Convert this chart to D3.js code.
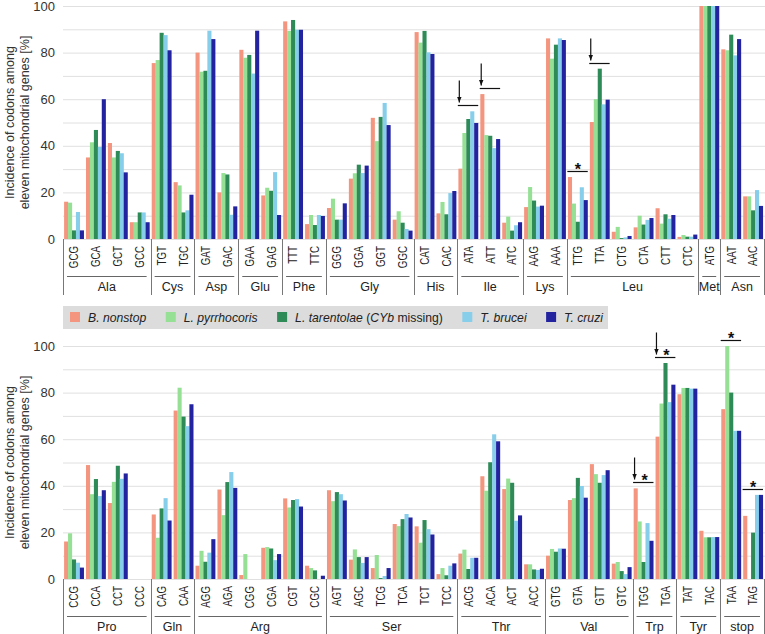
<!DOCTYPE html>
<html><head><meta charset="utf-8">
<script src="https://cdn.jsdelivr.net/npm/d3@7"></script>
<style>body{margin:0;background:#fff}svg{display:block;font-family:"Liberation Sans",Arial,sans-serif}</style>
</head><body><svg id="c" width="765" height="634"></svg>
<script>
const species = ["B. nonstop", "L. pyrrhocoris", "L. tarentolae (CYb missing)", "T. brucei", "T. cruzi"];
const colors = ["#F4967F", "#96E096", "#2E8B57", "#87CEEB", "#2323A0"];
const yTicks = [0, 20, 40, 60, 80, 100];

const codonsTop = ["GCG","GCA","GCT","GCC","TGT","TGC","GAT","GAC","GAA","GAG","TTT","TTC","GGG","GGA","GGT","GGC","CAT","CAC","ATA","ATT","ATC","AAG","AAA","TTG","TTA","CTG","CTA","CTT","CTC","ATG","AAT","AAC"];
const groupsTop = ["Ala","Cys","Asp","Glu","Phe","Gly","His","Ile","Lys","Leu","Met","Asn"];
const groupSizesTop = [4,2,2,2,2,4,2,3,2,6,1,2];
const bNonstopTop = [16,35,41.2,7.2,75.5,24.4,80,20,81.2,18.7,93.4,6.4,13.3,25.9,52,8.3,88.8,11,30.2,62.2,7,13.7,86.1,26.6,50.2,3.1,5,13.2,0.9,100,81.4,18.3];
const lPyrrhocorisTop = [15.6,41.5,35,7.2,76.8,23,71.8,28.3,77.8,22,89.3,10.3,17.3,28.2,42,11.9,84.3,15.9,45.5,44.6,9.6,22.3,77.4,15.2,60,5.2,10,6.6,1.7,100,81,18.3];
const lTarentolaeTop = [3.7,46.8,37.8,11.4,88.5,11.4,72.2,27.7,79,20.7,94,6,8.3,31.9,52.4,7,89.3,10.6,51.5,44.3,3.6,16.5,83.4,7.4,73.1,0.4,6.2,10.6,1,100,87.7,12.3];
const tBruceiTop = [11.6,39.5,36.8,11.4,87.5,12.3,89.4,10.4,71,28.7,89.8,10.3,8.3,28.3,58.4,4.3,80.1,19.7,54.8,39,5.9,13.9,86.1,22.2,57.8,0.7,8.2,8.7,1,100,78.8,21];
const tCruziTop = [3.7,60,28.6,7.2,81,19,85.8,14,89.4,10.3,89.8,9.9,15.3,31.5,48.9,3.6,79.4,20.6,49.8,42.9,7.2,14.3,85.4,16.7,59.8,1.3,9,10.3,1.9,100,85.8,14.2];
const marksTop = [{codon:"ATA",arrow:true,star:false},{codon:"ATT",arrow:true,star:false},{codon:"TTG",arrow:false,star:true},{codon:"TTA",arrow:true,star:false}];

const codonsBot = ["CCG","CCA","CCT","CCC","CAG","CAA","AGG","AGA","CGG","CGA","CGT","CGC","AGT","AGC","TCG","TCA","TCT","TCC","ACG","ACA","ACT","ACC","GTG","GTA","GTT","GTC","TGG","TGA","TAT","TAC","TAA","TAG"];
const groupsBot = ["Pro","Gln","Arg","Ser","Thr","Val","Trp","Tyr","stop"];
const groupSizesBot = [4,2,6,6,4,4,2,2,2];
const bNonstopBot = [16.1,48.9,32.6,0,27.7,72.3,5.7,38.4,1.7,13.4,34.6,5.7,38.1,8.3,4.7,23.6,22.6,2.1,10.9,44.1,38.6,6.3,10,33.9,49.3,6.6,38.9,61.1,79.3,20.7,72.9,27.1];
const lPyrrhocorisBot = [19.6,36.4,41.7,0,17.7,82.1,12.1,27.4,10.7,13.7,30.7,4.7,33.4,12.7,10.3,22.7,15.6,4.7,12.6,37.9,43.1,6.3,12.9,34.7,45,7.3,24.7,75.3,82,17.9,100,0];
const lTarentolaeBot = [8.4,42.9,48.6,0,30.3,69.7,7.4,41.6,0,13.1,33.9,3.7,37.3,9.4,0.4,25.7,25.3,1.6,4.3,50.1,41.3,4.1,11.7,43.4,41.3,3.4,7.3,92.7,82,17.9,80,19.9];
const tBruceiBot = [7,35.6,43,0,34.7,65.6,11.3,45.9,0,8.1,34.3,0,36.4,6.9,1.3,27.9,21.4,5.7,9.1,62.1,25,3.9,13.1,39.9,44.6,2.1,24,75.9,81.7,18,63.6,36.1];
const tCruziBot = [4.9,38.1,45.3,0,25.1,75,17.1,39.1,0,10.7,31.1,1.4,33.7,9.4,4.7,26.4,19.1,6.7,9.1,59.1,27.3,4.4,13,34.9,46.7,5.1,16.4,83.4,81.7,18,63.6,36.1];
const marksBot = [{codon:"TGG",arrow:true,star:true},{codon:"TGA",arrow:true,star:true},{codon:"TAA",arrow:false,star:true},{codon:"TAG",arrow:false,star:true}];

const svg = d3.select("#c");
const defs = svg.append("defs");
defs.append("marker").attr("id","ah").attr("viewBox","0 0 10 10").attr("refX",10).attr("refY",5)
  .attr("markerWidth",5).attr("markerHeight",5).attr("orient","auto")
  .append("path").attr("d","M0,1 L10,5 L0,9 z").attr("fill","#111");

const X0 = 63, X1 = 764;

function panel(codons, groups, sizes, series, marks, y0, y100) {
  const g = svg.append("g");
  const x = d3.scaleBand().domain(codons).range([X0, X1]).paddingInner(0.1).paddingOuter(0.05);
  const step = x.step();
  const xs = d3.scaleBand().domain(d3.range(series.length)).range([0, x.bandwidth()]);
  const y = d3.scaleLinear().domain([0,100]).range([y0, y100]);

  g.append("g").selectAll("line").data(d3.range(0,101,10)).join("line")
    .attr("x1", X0).attr("x2", 765).attr("y1", d=>y(d)+0.5).attr("y2", d=>y(d)+0.5)
    .attr("stroke", "#e0e0e0").attr("stroke-width", 1);

  const ya = d3.axisLeft(y).tickValues(yTicks).tickSize(0).tickPadding(8);
  const ay = g.append("g").attr("transform", `translate(${X0},0)`).call(ya);
  ay.select(".domain").remove();
  ay.selectAll("text").attr("font-size", 13).attr("fill", "#333").attr("font-family","Liberation Sans, Arial, sans-serif");

  series.forEach((vals, si) => {
    g.append("g").selectAll("rect").data(codons.map((c,i)=>({c, v: vals[i]})).filter(d=>d.v>0)).join("rect")
      .attr("x", d => x(d.c) + xs(si))
      .attr("width", xs.bandwidth() + 0.15)
      .attr("y", d => y(d.v))
      .attr("height", d => y(0) - y(d.v))
      .attr("fill", colors[si]);
  });

  const xa = d3.axisBottom(x).tickSize(0).tickPadding(0);
  const ax = g.append("g").attr("transform", `translate(0,${y0})`).call(xa);
  ax.select(".domain").remove();
  ax.selectAll(".tick text")
    .attr("font-size", 12.5).attr("fill", "#222").attr("font-family","Liberation Sans, Arial, sans-serif")
    .attr("text-anchor", "end").attr("x", 0).attr("y", 0).attr("dy", "0.35em")
    .attr("transform", "translate(0,7) rotate(-90) scale(0.78,1)");

  let start = 0;
  const bounds = [];
  groups.forEach((name, gi) => {
    const a = X0 + start * step, b = X0 + (start + sizes[gi]) * step;
    bounds.push(a);
    g.append("line").attr("x1", a + 4).attr("x2", b - 4).attr("y1", y0 + 37.5).attr("y2", y0 + 37.5)
      .attr("stroke", "#666").attr("stroke-width", 1);
    g.append("text").attr("x", (a + b) / 2).attr("y", y0 + 51.5).attr("text-anchor", "middle")
      .attr("font-size", 12.5).attr("fill", "#222").text(name);
    start += sizes[gi];
  });
  bounds.push(X0 + start * step);
  g.append("g").selectAll("line").data(bounds).join("line")
    .attr("x1", d => Math.round(d) + 0.5).attr("x2", d => Math.round(d) + 0.5)
    .attr("y1", y0).attr("y2", y0 + 56).attr("stroke", "#777").attr("stroke-width", 1);

  marks.forEach(m => {
    const i = codons.indexOf(m.codon);
    const mx = d3.max(series, s => s[i]);
    const ly = Math.round(y(mx) - 6) + 0.5;
    const a = X0 + i * step, b = a + step;
    g.append("line").attr("x1", a + 0.5).attr("x2", b - 1).attr("y1", ly).attr("y2", ly)
      .attr("stroke", "#111").attr("stroke-width", 1.2);
    if (m.arrow) {
      g.append("line").attr("x1", a + 2).attr("x2", a + 2).attr("y1", ly - 25).attr("y2", ly - 3)
        .attr("stroke", "#111").attr("stroke-width", 1.2).attr("marker-end", "url(#ah)");
    }
    if (m.star) {
      g.append("text").attr("x", (a + b) / 2 + (m.arrow ? 1 : 0)).attr("y", ly + 3.5)
        .attr("text-anchor", "middle").attr("font-size", 16).attr("font-weight", "bold").attr("fill", "#111").text("*");
    }
  });

  const cy = (y0 + y100) / 2;
  const t = g.append("text").attr("transform", `translate(14,${cy}) rotate(-90)`).attr("text-anchor", "middle")
    .attr("font-size", 12.5).attr("fill", "#333");
  t.append("tspan").attr("x", 0).attr("y", 0).text("Incidence of codons among");
  t.append("tspan").attr("x", 0).attr("y", 15).text("eleven mitochondrial genes [%]");
}

panel(codonsTop, groupsTop, groupSizesTop, [bNonstopTop, lPyrrhocorisTop, lTarentolaeTop, tBruceiTop, tCruziTop], marksTop, 239, 6);
panel(codonsBot, groupsBot, groupSizesBot, [bNonstopBot, lPyrrhocorisBot, lTarentolaeBot, tBruceiBot, tCruziBot], marksBot, 579, 346);

const lg = svg.append("g");
lg.append("rect").attr("x", 63).attr("y", 306).attr("width", 545).attr("height", 23).attr("fill", "#dcdcdc");
let lx = 70;
species.forEach((s, i) => {
  lg.append("rect").attr("x", lx).attr("y", 312).attr("width", 10).attr("height", 10).attr("fill", colors[i]);
  const tx = lg.append("text").attr("x", lx + 18).attr("y", 322).attr("font-size", 12.2).attr("fill", "#222");
  if (i === 2) {
    tx.append("tspan").attr("font-style", "italic").text("L. tarentolae");
    tx.append("tspan").text(" (");
    tx.append("tspan").attr("font-style", "italic").text("CYb");
    tx.append("tspan").text(" missing)");
  } else {
    tx.attr("font-style", "italic").text(s);
  }
  lx = lx + 18 + tx.node().getComputedTextLength() + 19.5;
});
</script></body></html>
